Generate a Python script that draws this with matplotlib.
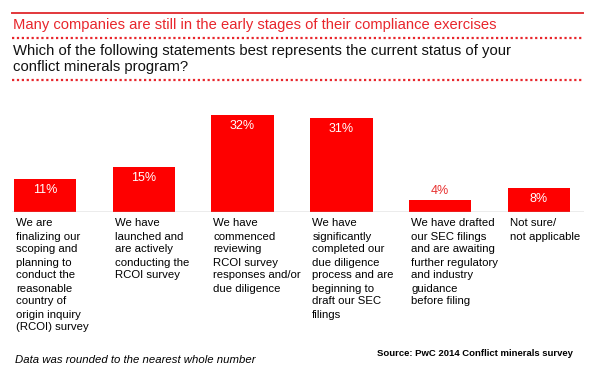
import matplotlib
matplotlib.use("Agg")
import matplotlib.pyplot as plt
from matplotlib.lines import Line2D
from matplotlib import font_manager

names = {f.name for f in font_manager.fontManager.ttflist}
FONT = "Liberation Sans Narrow" if "Liberation Sans Narrow" in names else "Liberation Sans"
plt.rcParams["font.family"] = [FONT, "DejaVu Sans"]

# Data
categories = [
    "We are\nfinalizing our\nscoping and\nplanning to\nconduct the\nreasonable\ncountry of\norigin inquiry\n(RCOI) survey",
    "We have\nlaunched and\nare actively\nconducting the\nRCOI survey",
    "We have\ncommenced\nreviewing\nRCOI survey\nresponses and/or\ndue diligence",
    "We have\nsignificantly\ncompleted our\ndue diligence\nprocess and are\nbeginning to\ndraft our SEC\nfilings",
    "We have drafted\nour SEC filings\nand are awaiting\nfurther regulatory\nand industry\nguidance\nbefore filing",
    "Not sure/\nnot applicable",
]
values = [11, 15, 32, 31, 4, 8]

RED = "#fe0000"
TITLE_RED = "#e8262c"
W, H = 598, 379

fig = plt.figure(figsize=(W / 100, H / 100), dpi=100)


def fx(px):
    return px / W


def fy(py):
    return 1 - py / H


# Header lines
fig.add_artist(Line2D([fx(12), fx(583)], [fy(12.7), fy(12.7)], color="#e2373b", lw=1.4))
for yy in (38.3, 80):
    fig.add_artist(Line2D([fx(12), fx(583)], [fy(yy), fy(yy)], color=TITLE_RED,
                          lw=1.6, linestyle=(0, (1, 1.2))))

fig.text(fx(13), fy(25), "Many companies are still in the early stages of their compliance exercises",
         color=TITLE_RED, fontsize=10.6, va="center", ha="left")
fig.text(fx(13), fy(59), "Which of the following statements best represents the current status of your\nconflict minerals program?",
         color="#111111", fontsize=10.7, va="center", ha="left", linespacing=1.2)

# Bars
ax = fig.add_axes([fx(12.4), 1 - 212 / H, fx(583.5 - 12.4), 106 / H])
x = range(len(values))
ax.bar(x, values, width=0.63, color=RED)
ax.set_xlim(-0.33, 5.45)
ax.set_ylim(0, 35)
ax.axhline(0, color="#a0a0a0", lw=1)
ax.axis("off")

for i, v in enumerate(values):
    if v < 6:
        ax.annotate(f"{v}%", (i, v), xytext=(0, 9), textcoords="offset pixels",
                    ha="center", va="center", color="#e8302f", fontsize=9)
    else:
        ax.annotate(f"{v}%", (i, v), xytext=(0, -11), textcoords="offset pixels",
                    ha="center", va="center", color="white", fontsize=9)
    # one text per line so the line pitch matches the original (13 px)
    for j, line in enumerate(categories[i].split("\n")):
        ax.annotate(line, (i - 0.315, 0), xytext=(2, -14.5 - 13 * j), textcoords="offset pixels",
                    ha="left", va="baseline", fontsize=8.2, annotation_clip=False)

# Footer
fig.text(fx(15), fy(360), "Data was rounded to the nearest whole number",
         style="italic", fontsize=8.2, va="center", ha="left")
fig.text(fx(573), fy(354), "Source: PwC 2014 Conflict minerals survey",
         fontweight="bold", fontsize=6.8, va="center", ha="right")

fig.savefig("out.png", dpi=100)
